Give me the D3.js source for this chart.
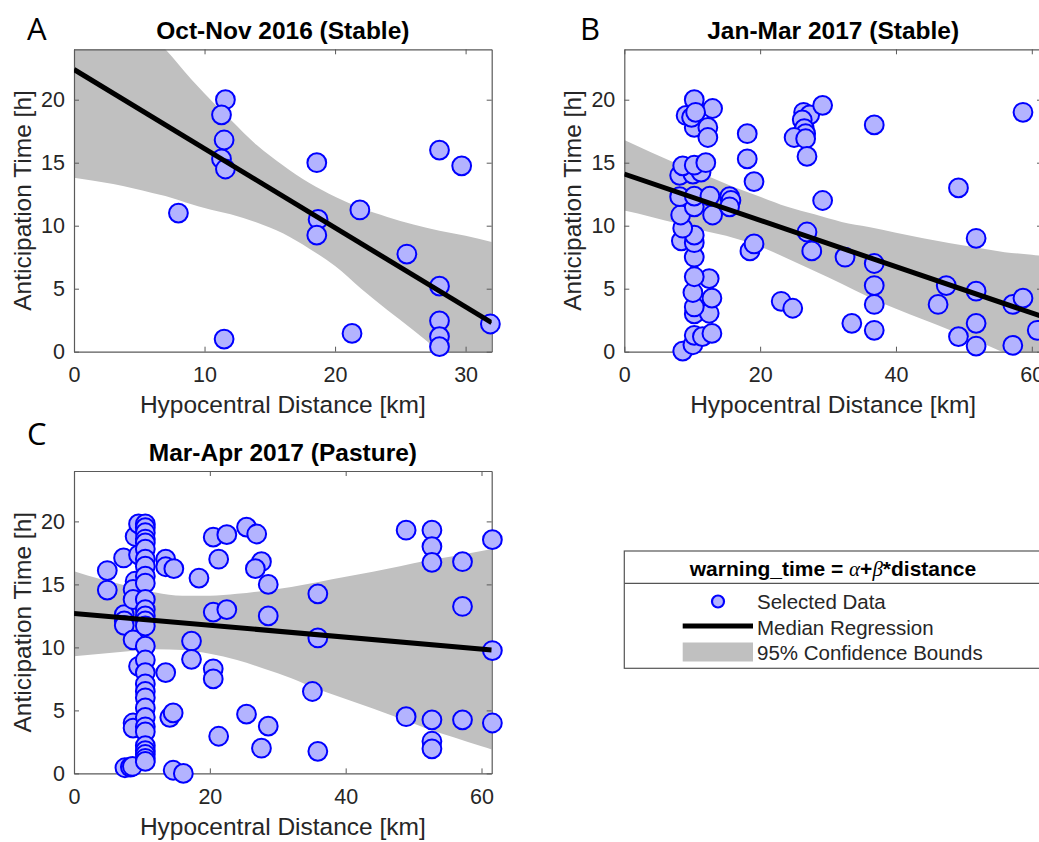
<!DOCTYPE html>
<html>
<head>
<meta charset="utf-8">
<script src="https://cdn.jsdelivr.net/npm/d3@7"></script>
<style>
  body { margin: 0; background: #ffffff; }
  svg text { font-family: "Liberation Sans", Arial, sans-serif; }
</style>
</head>
<body>
<svg id="fig" width="1039" height="842"></svg>
<script>
// ---- Observations: [hypocentral distance km, anticipation time h] ----
const pointsA = [
  [8.0, 11.0], [11.6, 20.0], [11.3, 18.8], [11.5, 16.8], [11.3, 15.3], [11.6, 14.5],
  [11.5, 1.0], [18.6, 15.0], [18.7, 10.5], [18.6, 9.25], [21.9, 11.25], [21.3, 1.45],
  [25.5, 7.75], [28.0, 16.0], [29.7, 14.75], [28.0, 5.2], [28.0, 2.45], [28.0, 1.2],
  [28.0, 0.4], [31.9, 2.2]
];

const pointsB = [
  [8.6, 0.05], [10.1, 0.55], [10.3, 1.3], [11.5, 1.2], [12.9, 1.45], [10.3, 3.0],
  [12.5, 3.05], [10.3, 3.55], [12.9, 4.25], [10.1, 4.7], [12.5, 5.8], [10.3, 5.95],
  [10.3, 7.5], [8.4, 8.8], [10.3, 8.65], [10.3, 9.25], [8.6, 9.8], [8.3, 10.85],
  [13.0, 10.85], [10.3, 11.5], [8.15, 12.3], [10.3, 12.35], [12.6, 12.35], [8.15, 14.0],
  [10.1, 14.1], [11.3, 14.25], [8.6, 14.75], [10.3, 14.8], [12.0, 15.0], [10.3, 17.8],
  [12.3, 17.8], [12.3, 17.0], [9.1, 18.75], [9.9, 18.6], [13.0, 19.3], [10.3, 20.0],
  [10.5, 19.0], [15.5, 12.3], [15.7, 12.0], [15.5, 11.5], [18.1, 17.3], [18.1, 15.3],
  [19.1, 13.5], [18.5, 8.0], [19.1, 8.55], [23.1, 4.0], [24.8, 3.45], [26.4, 19.0],
  [27.3, 18.8], [26.2, 18.4], [26.5, 17.7], [26.7, 17.3], [25.0, 17.0], [26.7, 16.9],
  [26.9, 15.5], [29.2, 19.55], [29.2, 12.0], [26.9, 9.5], [27.6, 8.0], [32.5, 7.5],
  [33.5, 2.25], [36.8, 18.0], [36.8, 7.0], [36.8, 5.25], [36.8, 3.75], [36.8, 1.7],
  [49.2, 13.0], [51.8, 9.0], [46.2, 3.75], [47.4, 5.25], [49.2, 1.2], [51.8, 4.8],
  [51.8, 2.25], [51.8, 0.45], [57.2, 0.5], [57.2, 3.75], [58.7, 4.25], [58.7, 19.0],
  [60.8, 1.7]
];

const pointsC = [
  [4.9, 16.1], [4.9, 14.55], [7.3, 17.1], [7.4, 12.6], [7.4, 12.1], [7.4, 11.75],
  [7.5, 0.45], [8.3, 0.5], [8.6, 0.55], [8.7, 4.0], [8.7, 3.6], [8.7, 10.6],
  [9.5, 8.5], [9.0, 18.8], [9.5, 19.8], [9.5, 17.35], [9.0, 15.25], [8.7, 14.6],
  [8.7, 13.8],
  [10.5, 19.8], [10.5, 19.5], [10.5, 19.1], [10.5, 18.6], [10.5, 18.3], [10.5, 17.8],
  [10.5, 17.0], [10.5, 16.45], [10.5, 15.65], [10.5, 15.1], [10.5, 13.8], [10.5, 13.0],
  [10.5, 12.5], [10.5, 12.1], [10.5, 11.7], [10.5, 10.1], [10.5, 9.0], [10.5, 8.0],
  [10.5, 7.1], [10.5, 6.5], [10.5, 6.0], [10.5, 5.2], [10.5, 4.45], [10.5, 3.7],
  [10.5, 3.3], [10.5, 2.2], [10.5, 1.8], [10.5, 1.5], [10.5, 1.2], [10.5, 0.95],
  [13.5, 17.0], [13.5, 16.4], [14.7, 16.25], [13.5, 8.0], [14.1, 4.45], [14.6, 4.8],
  [14.6, 0.25], [16.1, 0.0], [18.4, 15.5], [17.3, 10.5], [17.3, 9.05], [20.5, 18.75],
  [22.5, 18.95], [21.3, 17.0], [20.5, 12.8], [22.5, 13.0], [20.5, 8.3], [20.5, 7.5],
  [21.3, 2.95], [25.4, 19.55], [26.9, 19.0], [27.6, 16.8], [26.7, 16.25], [28.6, 15.0],
  [28.6, 12.5], [25.4, 4.7], [28.6, 3.75], [27.6, 2.0], [35.9, 14.25], [35.9, 10.75],
  [35.1, 6.5], [35.9, 1.75], [48.9, 19.3], [48.9, 4.5], [52.7, 19.3], [52.7, 18.0],
  [52.7, 16.75], [52.7, 4.25], [52.7, 2.55], [52.7, 1.95], [57.2, 16.8], [57.2, 13.25],
  [57.2, 4.25], [61.6, 18.55], [61.6, 9.75], [61.6, 4.0]
];

// ---- 95% confidence bounds: [distance, lower, upper] ----
const bandA = [
  [0, 13.8, 31.0], [3, 13.3, 27.6], [6, 12.6, 25.0], [7, 12.35, 24.0], [9, 11.7, 21.6],
  [10, 11.4, 20.5], [12, 10.9, 18.4], [14, 10.25, 16.4], [16, 9.4, 14.8], [18, 8.2, 13.4],
  [20, 6.8, 12.3], [22, 5.0, 11.4], [24, 3.3, 10.7], [26, 1.7, 10.1], [28, 0.0, 9.6],
  [30, -1.8, 9.2], [32, -3.6, 8.7]
];

const bandB = [
  [0, 11.2, 16.8], [4, 10.7, 15.8], [8, 10.15, 14.85], [12, 9.55, 14.0], [16, 9.05, 13.1],
  [20, 8.35, 12.3], [24, 7.4, 11.5], [28, 6.4, 10.9], [32, 5.4, 10.3], [36, 4.35, 9.9],
  [40, 3.4, 9.45], [44, 2.55, 9.0], [48, 1.7, 8.6], [52, 0.85, 8.25], [56, -0.1, 7.9],
  [60, -1.0, 7.7], [61.5, -1.3, 7.6]
];

const bandC = [
  [0, 9.3, 16.05], [4, 9.5, 15.4], [8, 9.7, 14.85], [12, 9.85, 14.35], [16, 9.8, 14.1],
  [20, 9.5, 14.1], [24, 9.0, 14.25], [28, 8.3, 14.5], [32, 7.55, 14.8], [36, 6.65, 15.2],
  [40, 5.9, 15.6], [44, 5.15, 16.0], [48, 4.35, 16.45], [52, 3.55, 16.9], [56, 2.85, 17.25],
  [60, 2.15, 17.65], [61.5, 1.9, 17.8]
];

// ---- Median regression end points ----
const fitA = [[0, 22.4], [32, 2.3]];
const fitB = [[0, 14.1], [61.5, 2.8]];
const fitC = [[0, 12.7], [61.5, 9.8]];

// ---- Axis settings and labels ----
const yTicks = [0, 5, 10, 15, 20];
const xTicksA = [0, 10, 20, 30];
const xTicksB = [0, 20, 40, 60];
const xTicksC = [0, 20, 40, 60];
const titles = ["Oct-Nov 2016 (Stable)", "Jan-Mar 2017 (Stable)", "Mar-Apr 2017 (Pasture)"];
const letters = ["A", "B", "C"];
const xLabel = "Hypocentral Distance [km]";
const yLabel = "Anticipation Time [h]";
const legendEntries = ["Selected Data", "Median Regression", "95% Confidence Bounds"];

const svg = d3.select("#fig");
const W = 417.7, H = 302.4;
const markerFill = "#b3b3ff", markerStroke = "#0000ff", bandFill = "#c0c0c0";
const axisColor = "#5a5a5a", textColor = "#262626";

const panels = [
  { left: 74,    top: 49.3, xMax: 32,   xTicks: xTicksA, pts: pointsA, band: bandA, fit: fitA, letterX: 27,  letterY: 40 },
  { left: 624.3, top: 49.3, xMax: 61.5, xTicks: xTicksB, pts: pointsB, band: bandB, fit: fitB, letterX: 580, letterY: 40 },
  { left: 74,    top: 471,  xMax: 61.5, xTicks: xTicksC, pts: pointsC, band: bandC, fit: fitC, letterX: 27,  letterY: 445 }
];

panels.forEach((p, i) => {
  const x = d3.scaleLinear().domain([0, p.xMax]).range([p.left, p.left + W]);
  const y = d3.scaleLinear().domain([0, 24]).range([p.top + H, p.top]);
  const g = svg.append("g");

  const clipId = "clip" + i;
  svg.append("clipPath").attr("id", clipId)
    .append("rect").attr("x", p.left).attr("y", p.top).attr("width", W).attr("height", H);

  // confidence band
  g.append("path")
    .datum(p.band)
    .attr("clip-path", `url(#${clipId})`)
    .attr("fill", bandFill)
    .attr("d", d3.area().curve(d3.curveMonotoneX)
      .x(d => x(d[0])).y0(d => y(d[1])).y1(d => y(d[2])));

  // axes box with inward ticks
  const bottom = g.append("g").attr("transform", `translate(0,${p.top + H})`)
    .call(d3.axisBottom(x).tickValues(p.xTicks).tickSizeInner(-5).tickSizeOuter(0).tickPadding(15));
  const topAx = g.append("g").attr("transform", `translate(0,${p.top})`)
    .call(d3.axisTop(x).tickValues(p.xTicks).tickSizeInner(-5).tickSizeOuter(0).tickFormat(""));
  const leftAx = g.append("g").attr("transform", `translate(${p.left},0)`)
    .call(d3.axisLeft(y).tickValues(yTicks).tickSizeInner(-5).tickSizeOuter(0).tickPadding(9));
  const rightAx = g.append("g").attr("transform", `translate(${p.left + W},0)`)
    .call(d3.axisRight(y).tickValues(yTicks).tickSizeInner(-5).tickSizeOuter(0).tickFormat(""));
  [bottom, topAx, leftAx, rightAx].forEach(a => {
    a.select(".domain").attr("stroke", axisColor).attr("stroke-width", 1.2);
    a.selectAll(".tick line").attr("stroke", axisColor).attr("stroke-width", 1);
    a.selectAll(".tick text").attr("fill", textColor)
      .style("font-family", '"Liberation Sans", Arial, sans-serif').style("font-size", "21.5px");
  });

  // observations
  g.append("g").selectAll("circle").data(p.pts).join("circle")
    .attr("cx", d => x(d[0])).attr("cy", d => y(d[1])).attr("r", 9.4)
    .attr("fill", markerFill).attr("stroke", markerStroke).attr("stroke-width", 2);

  // regression line
  g.append("path").datum(p.fit)
    .attr("clip-path", `url(#${clipId})`)
    .attr("fill", "none").attr("stroke", "#000").attr("stroke-width", 5)
    .attr("d", d3.line().x(d => x(d[0])).y(d => y(d[1])));

  // texts
  const cx = p.left + W / 2;
  g.append("text").attr("x", cx).attr("y", p.top - 10)
    .attr("text-anchor", "middle").attr("font-weight", "bold").attr("font-size", 24.5)
    .attr("fill", "#000").text(titles[i]);
  g.append("text").attr("x", cx).attr("y", p.top + H + 61.5)
    .attr("text-anchor", "middle").attr("font-size", 24.5).attr("fill", textColor).text(xLabel);
  g.append("text")
    .attr("transform", `translate(${p.left - 43.5},${p.top + H / 2}) rotate(-90)`)
    .attr("text-anchor", "middle").attr("font-size", 24.5).attr("fill", textColor).text(yLabel);
  g.append("text").attr("x", p.letterX).attr("y", p.letterY)
    .style("font-family", '"Open Sans", sans-serif').attr("font-size", 31)
    .attr("fill", "#000").text(letters[i]);
});

// ---- Legend ----
const lg = svg.append("g");
const lx = 624.3, ly = 551, lw = 440, lh = 117.3;
lg.append("rect").attr("x", lx).attr("y", ly).attr("width", lw).attr("height", lh)
  .attr("fill", "#fff").attr("stroke", "#555").attr("stroke-width", 1.2);
lg.append("line").attr("x1", lx).attr("x2", lx + lw).attr("y1", ly + 32.3).attr("y2", ly + 32.3)
  .attr("stroke", "#555").attr("stroke-width", 1.2);

const lt = lg.append("text").attr("x", 833).attr("y", ly + 24.5).attr("text-anchor", "middle")
  .attr("font-size", 21).attr("font-weight", "bold").attr("fill", "#000");
lt.append("tspan").text("warning_time = ");
lt.append("tspan").style("font-family", '"Liberation Serif", "Times New Roman", serif')
  .attr("font-style", "italic").attr("font-weight", "normal").text("α");
lt.append("tspan").text("+");
lt.append("tspan").style("font-family", '"Liberation Serif", "Times New Roman", serif')
  .attr("font-style", "italic").attr("font-weight", "normal").text("β");
lt.append("tspan").text("*distance");

const rowY = [601.5, 627, 652.5];
lg.append("circle").attr("cx", 718).attr("cy", rowY[0]).attr("r", 6)
  .attr("fill", markerFill).attr("stroke", markerStroke).attr("stroke-width", 2.2);
lg.append("line").attr("x1", 682.7).attr("x2", 753).attr("y1", rowY[1] - 1).attr("y2", rowY[1] - 1)
  .attr("stroke", "#000").attr("stroke-width", 5);
lg.append("rect").attr("x", 682.7).attr("y", rowY[2] - 10).attr("width", 70.3).attr("height", 19)
  .attr("fill", bandFill);
lg.selectAll("text.entry").data(legendEntries).join("text").attr("class", "entry")
  .attr("x", 757).attr("y", (d, i) => rowY[i] + 7.5)
  .attr("font-size", 20.5).attr("fill", textColor).text(d => d);
</script>
</body>
</html>
